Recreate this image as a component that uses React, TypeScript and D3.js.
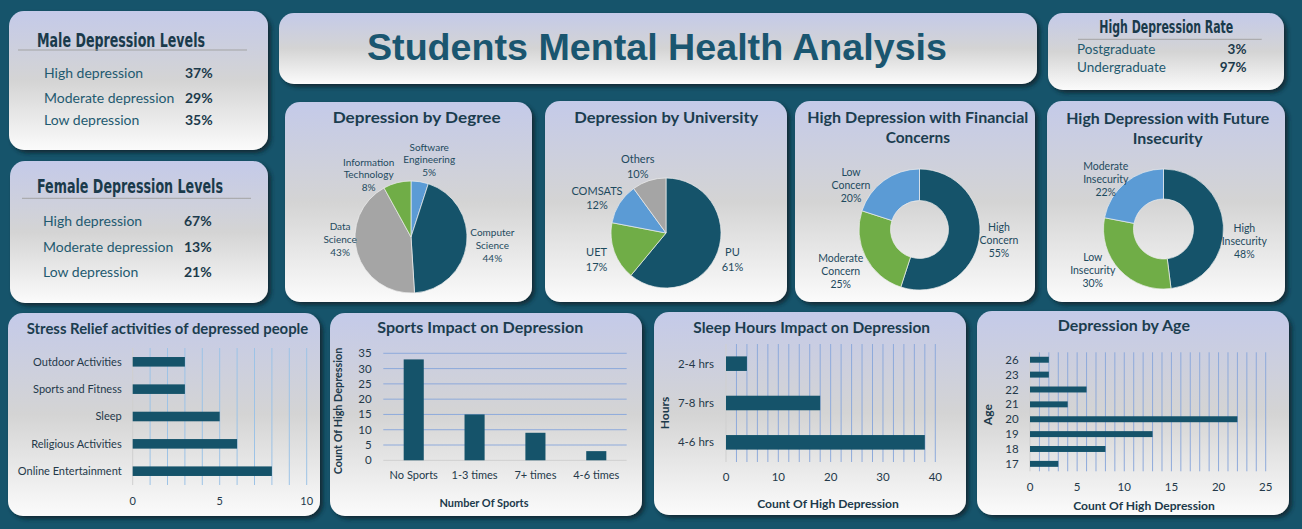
import React from "react";
import * as d3 from "d3";

const W = 1302;
const H = 529;

// ---------- data ----------
const depressionLevels = ["High depression", "Moderate depression", "Low depression"];
const malePct = [37, 29, 35];
const femalePct = [67, 13, 21];

const studyLevels = ["Postgraduate", "Undergraduate"];
const studyLevelPct = [3, 97];

const degrees = ["Software Engineering", "Computer Science", "Data Science", "Information Technology"];
const degreeShare = [5, 44, 43, 8];

const universities = ["PU", "UET", "COMSATS", "Others"];
const universityShare = [61, 17, 12, 10];

const financialLevels = ["High Concern", "Moderate Concern", "Low Concern"];
const financialShare = [55, 25, 20];

const futureLevels = ["High Insecurity", "Low Insecurity", "Moderate Insecurity"];
const futureShare = [48, 30, 22];

const stressActivities = ["Outdoor Activities", "Sports and Fitness", "Sleep", "Religious Activities", "Online Entertainment"];
const stressCounts = [3, 3, 5, 6, 8];

const sportsFrequency = ["No Sports", "1-3 times", "7+ times", "4-6 times"];
const sportsCounts = [33, 15, 9, 3];

const sleepHours = ["2-4 hrs", "7-8 hrs", "4-6 hrs"];
const sleepCounts = [4, 18, 38];

const ages = ["26", "23", "22", "21", "20", "19", "18", "17"];
const ageCounts = [2, 2, 6, 4, 22, 13, 8, 3];

// ---------- styles ----------
const BG = "#16546b";
const DARK = "#15536a";
const GREEN = "#70ad47";
const BLUE = "#5b9bd5";
const GRAY = "#a5a5a5";
const FONT = "Lato, 'Open Sans', sans-serif";
const NARROW = "'Liberation Sans Narrow', 'DejaVu Sans Condensed', 'DejaVu Sans', sans-serif";
const TITLE_C = "#1b3d4f";
const AXIS_C = "#24394a";

const Panel = ({ x, y, w, h }) => (
  <rect x={x} y={y} width={w} height={h} rx={15} ry={15} fill="url(#pg)" filter="url(#sh)" />
);

function Pie({ cx, cy, r, inner = 0, names, values, colors, labelR, nudge, fontSize, lineH }) {
  const arcs = d3.pie<number>().sort(null).value(d => d)(values);
  const arc = d3.arc<any>().innerRadius(inner).outerRadius(r);
  const lab = d3.arc<any>().innerRadius(labelR).outerRadius(labelR);
  const total = d3.sum(values);
  return (
    <g transform={`translate(${cx},${cy})`}>
      {arcs.map((a, i) => (
        <path key={i} d={arc(a)} fill={colors[i]} stroke="#eeeeee" strokeWidth={0.7} />
      ))}
      {arcs.map((a, i) => {
        const [lx, ly] = lab.centroid(a);
        const lines = [...names[i].split(" "), `${Math.round((values[i] / total) * 100)}%`];
        const x = lx + nudge[i][0];
        const y0 = ly + nudge[i][1] - ((lines.length - 1) * lineH) / 2;
        return (
          <text key={"l" + i} textAnchor="middle" fontFamily={FONT} fontSize={fontSize} fill="#1e4a5e">
            {lines.map((l, j) => (
              <tspan key={j} x={x} y={y0 + j * lineH} dy="0.35em">{l}</tspan>
            ))}
          </text>
        );
      })}
    </g>
  );
}

function HBars({ cats, vals, x0, x1, max, y0, y1, padIn, padOut, gridStep, tickStep, gridColor, labelX, tickY, fontSize }) {
  const x = d3.scaleLinear().domain([0, max]).range([x0, x1]);
  const y = d3.scaleBand().domain(cats).range([y0, y1]).paddingInner(padIn).paddingOuter(padOut);
  const grid = d3.range(0, max + 1e-9, gridStep);
  const ticks = d3.range(0, max + 1e-9, tickStep);
  return (
    <g fontFamily={FONT} fontSize={fontSize} fill={AXIS_C}>
      {grid.map(g => (
        <line key={"g" + g} x1={x(g)} x2={x(g)} y1={y0} y2={y1} stroke={g === 0 ? "#cfcfcf" : gridColor} strokeWidth={1} />
      ))}
      {cats.map((c, i) => (
        <rect key={c} x={x(0)} y={y(c)} width={x(vals[i]) - x(0)} height={y.bandwidth()} fill={DARK} />
      ))}
      {cats.map(c => (
        <text key={"c" + c} x={labelX} y={y(c) + y.bandwidth() / 2} dy="0.35em" textAnchor="end">{c}</text>
      ))}
      {ticks.map(t => (
        <text key={"t" + t} x={x(t)} y={tickY} dy="0.35em" textAnchor="middle">{t}</text>
      ))}
    </g>
  );
}

function SportsBars() {
  const x = d3.scaleBand().domain(sportsFrequency).range([383.3, 626.7]).paddingInner(0.67).paddingOuter(0.335);
  const y = d3.scaleLinear().domain([0, 35]).range([460.3, 353.3]);
  const ticks = d3.range(0, 36, 5);
  return (
    <g fontFamily={FONT} fontSize={11.5} fill={AXIS_C}>
      {ticks.map(t => (
        <line key={"g" + t} x1={383.3} x2={626.7} y1={y(t)} y2={y(t)} stroke={t === 0 ? "#cfcfcf" : "#8eaadb"} strokeWidth={1} />
      ))}
      {sportsFrequency.map((c, i) => (
        <rect key={c} x={x(c)} y={y(sportsCounts[i])} width={x.bandwidth()} height={y(0) - y(sportsCounts[i])} fill={DARK} />
      ))}
      {ticks.map(t => (
        <text key={"t" + t} x={371.7} y={y(t)} dy="0.35em" textAnchor="end">{t}</text>
      ))}
      {sportsFrequency.map(c => (
        <text key={"c" + c} x={x(c) + x.bandwidth() / 2} y={474.7} dy="0.35em" textAnchor="middle" fontSize={11}>{c}</text>
      ))}
    </g>
  );
}

const Title = ({ x, y, w, size = 16, children }) => (
  <text x={x} y={y} textAnchor="middle" fontFamily={FONT} fontWeight={700} fontSize={size} fill={TITLE_C}
    textLength={w} lengthAdjust="spacingAndGlyphs">{children}</text>
);

function LevelsPanel({ title, titleY, titleW, lineY, lineX0, lineX1, values, rowY, labelX, valueX }) {
  return (
    <g>
      <text x={37} y={titleY} fontFamily={NARROW} fontWeight={700} fontSize={20} fill="#1a3a4b"
        textLength={titleW} lengthAdjust="spacingAndGlyphs">{title}</text>
      <line x1={lineX0} x2={lineX1} y1={lineY} y2={lineY} stroke="#a3a3a3" strokeWidth={1} />
      {depressionLevels.map((l, i) => (
        <g key={l}>
          <text x={labelX} y={rowY[i]} fontFamily={FONT} fontSize={14} fill="#1f5a70">{l}</text>
          <text x={valueX} y={rowY[i]} fontFamily={FONT} fontSize={14} fontWeight={700} fill="#1c3a4b">{values[i]}%</text>
        </g>
      ))}
    </g>
  );
}

export default function App() {
  return (
    <div style={{ position: "absolute", left: 0, top: 0 }}>
      <svg width={W} height={H} style={{ display: "block" }}>
        <defs>
          <linearGradient id="pg" x1="0" y1="0" x2="0" y2="1">
            <stop offset="0" stopColor="#c4cae9" />
            <stop offset="0.5" stopColor="#d4d4d4" />
            <stop offset="1" stopColor="#fbfbfb" />
          </linearGradient>
          <filter id="sh" x="-10%" y="-10%" width="125%" height="130%">
            <feDropShadow dx="3" dy="3" stdDeviation="2" floodColor="#08252f" floodOpacity="0.85" />
          </filter>
        </defs>
        <rect width={W} height={H} fill={BG} />

        {/* panels */}
        <Panel x={9} y={11} w={259} h={139} />
        <Panel x={10} y={161} w={258} h={142} />
        <Panel x={279} y={13} w={758} h={71} />
        <Panel x={1048} y={13} w={236} h={77} />
        <Panel x={285} y={102} w={247} h={200} />
        <Panel x={545} y={101} w={242} h={201} />
        <Panel x={795} y={101} w={240} h={201} />
        <Panel x={1047} y={101} w={238} h={201} />
        <Panel x={8} y={313} w={312} h={203} />
        <Panel x={330} y={313} w={312} h={203} />
        <Panel x={654} y={312} w={312} h={203} />
        <Panel x={977} y={311} w={312} h={204} />

        {/* gender panels */}
        <LevelsPanel title="Male Depression Levels" titleY={46.7} titleW={168} lineY={50} lineX0={18} lineX1={247}
          values={malePct} rowY={[78.3, 102.7, 125]} labelX={44} valueX={185} />
        <LevelsPanel title="Female Depression Levels" titleY={193.3} titleW={186} lineY={198.3} lineX0={22} lineX1={251}
          values={femalePct} rowY={[226, 251.7, 276.7]} labelX={43} valueX={184} />

        {/* main title */}
        <text x={657} y={60} textAnchor="middle" fontFamily="'Liberation Sans Narrow', 'Liberation Sans', Arial, sans-serif"
          fontWeight={700} fontSize={36} fill="#1a5670" textLength={580} lengthAdjust="spacingAndGlyphs">
          Students Mental Health Analysis
        </text>

        {/* rate panel */}
        <text x={1166.3} y={32.7} textAnchor="middle" fontFamily={NARROW} fontWeight={700} fontSize={17} fill="#1a3a4b"
          textLength={134} lengthAdjust="spacingAndGlyphs">High Depression Rate</text>
        <line x1={1078} x2={1261.7} y1={39.3} y2={39.3} stroke="#a3a3a3" strokeWidth={1} />
        {studyLevels.map((s, i) => (
          <g key={s}>
            <text x={1077} y={[54, 71.7][i]} fontFamily={FONT} fontSize={13.5} fill="#1f5a70">{s}</text>
            <text x={1246.5} y={[54, 71.7][i]} textAnchor="end" fontFamily={FONT} fontSize={13.5} fontWeight={700} fill="#1c3a4b">{studyLevelPct[i]}%</text>
          </g>
        ))}

        {/* pies */}
        <Title x={416.7} y={123.3} w={168}>Depression by Degree</Title>
        <Pie cx={411} cy={237} r={56} names={degrees} values={degreeShare} colors={[BLUE, DARK, GRAY, GREEN]}
          labelR={78} nudge={[[6, 0], [4, -1], [4, -19], [-23, 13.5]]} fontSize={10} lineH={12.8} />

        <Title x={666.3} y={123.3} w={184}>Depression by University</Title>
        <Pie cx={666} cy={233} r={55} names={universities} values={universityShare} colors={[DARK, GREEN, BLUE, GRAY]}
          labelR={77} nudge={[[-6, 0.5], [3, 0.5], [-4, 6.6], [-4.5, 7]]} fontSize={11} lineH={14.5} />

        <Title x={917.8} y={123.3} w={221} size={15.5}>High Depression with Financial</Title>
        <Title x={917.8} y={142.7} w={64.3} size={15.5}>Concerns</Title>
        <Pie cx={919.5} cy={229.5} r={60.5} inner={29} names={financialLevels} values={financialShare} colors={[DARK, GREEN, BLUE]}
          labelR={82} nudge={[[-1.5, -1.6], [-5.7, 5], [-20.3, 22.5]]} fontSize={10.5} lineH={13} />

        <Title x={1167.7} y={124.3} w={203} size={15.5}>High Depression with Future</Title>
        <Title x={1167.7} y={144.3} w={70} size={15.5}>Insecurity</Title>
        <Pie cx={1163.5} cy={229} r={60} inner={30} names={futureLevels} values={futureShare} colors={[DARK, GREEN, BLUE]}
          labelR={82} nudge={[[-1, 17.8], [-11, -15], [-5.5, 13]]} fontSize={10.5} lineH={13} />

        {/* stress relief */}
        <Title x={167.5} y={334} w={281.6} size={14.5}>Stress Relief activities of depressed people</Title>
        <HBars cats={stressActivities} vals={stressCounts} x0={132.7} x1={306.7} max={10} y0={348} y1={485}
          padIn={0.65} padOut={0.33} gridStep={1} tickStep={5} gridColor="#9dc3e6" labelX={121.7} tickY={500.7} fontSize={11} />

        {/* sports */}
        <Title x={480.3} y={333} w={206} size={15}>Sports Impact on Depression</Title>
        <SportsBars />
        <text x={484} y={503} dy="0.35em" textAnchor="middle" fontFamily={FONT} fontWeight={700} fontSize={11} fill="#1c3a4b"
          textLength={89} lengthAdjust="spacingAndGlyphs">Number Of Sports</text>
        <text transform="translate(338,411) rotate(-90)" dy="0.35em" textAnchor="middle" fontFamily={FONT} fontWeight={700}
          fontSize={10.5} fill="#1c3a4b" textLength={126.7} lengthAdjust="spacingAndGlyphs">Count Of High Depression</text>

        {/* sleep */}
        <Title x={811.7} y={333} w={236.7} size={15}>Sleep Hours Impact on Depression</Title>
        <HBars cats={sleepHours} vals={sleepCounts} x0={726} x1={935.3} max={40} y0={344} y1={462}
          padIn={0.63} padOut={0.315} gridStep={2} tickStep={10} gridColor="#8eaadb" labelX={714} tickY={477.3} fontSize={11.5} />
        <text x={828} y={504} dy="0.35em" textAnchor="middle" fontFamily={FONT} fontWeight={700} fontSize={12} fill="#1c3a4b"
          textLength={141.7} lengthAdjust="spacingAndGlyphs">Count Of High Depression</text>
        <text transform="translate(665,413) rotate(-90)" dy="0.35em" textAnchor="middle" fontFamily={FONT} fontWeight={700}
          fontSize={12} fill="#1c3a4b">Hours</text>

        {/* age */}
        <Title x={1123.8} y={330.7} w={132.3} size={15}>Depression by Age</Title>
        <HBars cats={ages} vals={ageCounts} x0={1030} x1={1265.7} max={25} y0={352.3} y1={471.3}
          padIn={0.6} padOut={0.3} gridStep={1} tickStep={5} gridColor="#8eaadb" labelX={1018.7} tickY={487} fontSize={11.5} />
        <text x={1144} y={506} dy="0.35em" textAnchor="middle" fontFamily={FONT} fontWeight={700} fontSize={12} fill="#1c3a4b"
          textLength={141.7} lengthAdjust="spacingAndGlyphs">Count Of High Depression</text>
        <text transform="translate(988,414.7) rotate(-90)" dy="0.35em" textAnchor="middle" fontFamily={FONT} fontWeight={700}
          fontSize={12} fill="#1c3a4b">Age</text>
      </svg>
    </div>
  );
}
